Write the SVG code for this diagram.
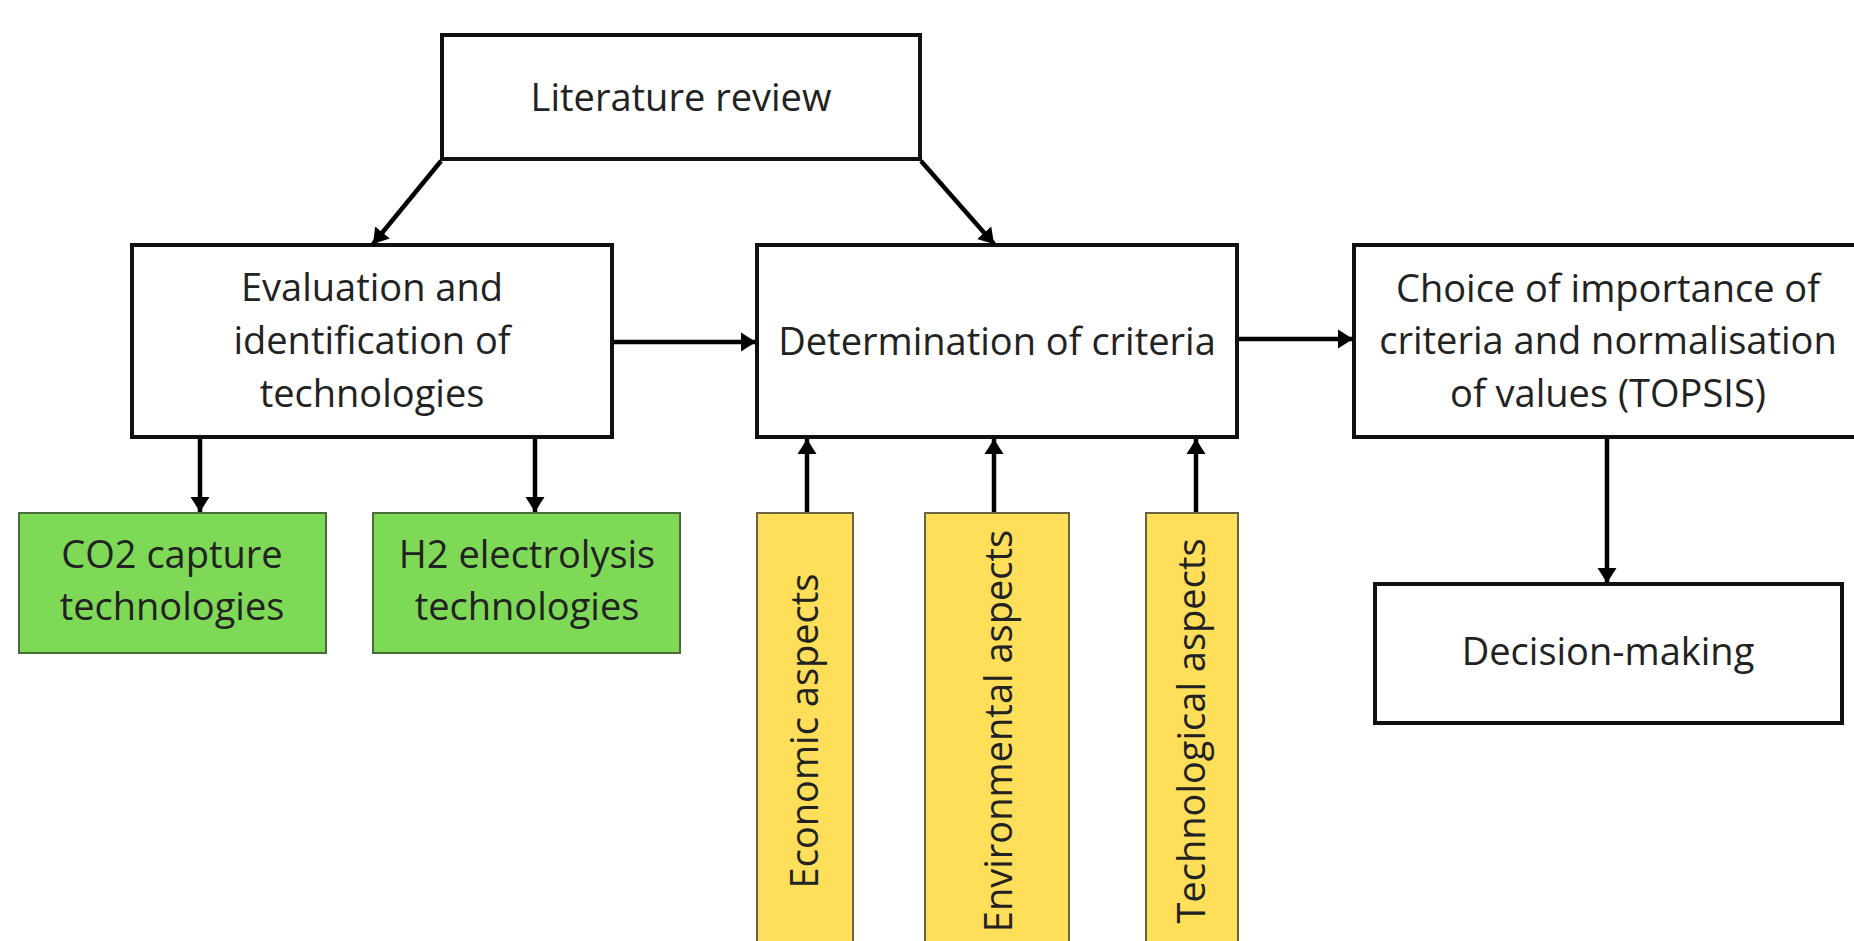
<svg xmlns="http://www.w3.org/2000/svg" width="1854" height="941" viewBox="0 0 1854 941">
<style>
.box{fill:#fff;stroke:#111;stroke-width:4}
.green{fill:#7ED957;stroke:#4a6b3a;stroke-width:2}
.yellow{fill:#FFDE59;stroke:#6b6240;stroke-width:2}
.t{font-family:"Open Sans","Noto Sans",sans-serif;font-size:38px;fill:#222;text-anchor:middle}
.edge{stroke:#000;stroke-width:4.5;fill:none;marker-end:url(#ah)}
</style>
<defs>
<marker id="ah" markerWidth="18" markerHeight="22" refX="15" refY="10" orient="auto" markerUnits="userSpaceOnUse"><path d="M0,0.5 L15,10 L0,19.5 z" fill="#000"/></marker>
</defs>
<rect width="1854" height="941" fill="#fff"/>
<g id="lit"><rect class="box" x="442" y="35" width="478" height="124"/><text class="t" x="681" y="111">Literature review</text></g>
<g id="eval"><rect class="box" x="132" y="245" width="480" height="192"/>
<text class="t" x="372" y="301">Evaluation and</text><text class="t" x="372" y="354">identification of</text><text class="t" x="372" y="407">technologies</text></g>
<g id="det"><rect class="box" x="757" y="245" width="480" height="192"/><text class="t" x="997" y="355">Determination of criteria</text></g>
<g id="choice"><rect class="box" x="1354" y="245" width="510" height="192"/>
<text class="t" x="1608" y="302">Choice of importance of</text><text class="t" x="1608" y="354">criteria and normalisation</text><text class="t" x="1608" y="407">of values (TOPSIS)</text></g>
<g id="decision"><rect class="box" x="1375" y="584" width="467" height="139"/><text class="t" x="1608" y="665">Decision-making</text></g>
<g id="co2"><rect class="green" x="19" y="513" width="307" height="140"/><text class="t" x="172" y="568">CO2 capture</text><text class="t" x="172" y="620">technologies</text></g>
<g id="h2"><rect class="green" x="373" y="513" width="307" height="140"/><text class="t" x="527" y="568">H2 electrolysis</text><text class="t" x="527" y="620">technologies</text></g>
<g id="econ"><rect class="yellow" x="757" y="513" width="96" height="450"/><text class="t" transform="translate(805,731) rotate(-90)" x="0" y="13">Economic aspects</text></g>
<g id="env"><rect class="yellow" x="925" y="513" width="144" height="450"/><text class="t" transform="translate(999,731) rotate(-90)" x="0" y="13">Environmental aspects</text></g>
<g id="tech"><rect class="yellow" x="1146" y="513" width="92" height="450"/><text class="t" transform="translate(1192,731) rotate(-90)" x="0" y="13">Technological aspects</text></g>
<g id="connectors">
<line class="edge" x1="441" y1="161" x2="373" y2="244"/>
<line class="edge" x1="921" y1="161" x2="994" y2="244"/>
<line class="edge" x1="614" y1="342" x2="756" y2="342"/>
<line class="edge" x1="1239" y1="339" x2="1353" y2="339"/>
<line class="edge" x1="200" y1="439" x2="200" y2="512"/>
<line class="edge" x1="535" y1="439" x2="535" y2="512"/>
<line class="edge" x1="807" y1="512" x2="807" y2="439"/>
<line class="edge" x1="994" y1="512" x2="994" y2="439"/>
<line class="edge" x1="1196" y1="512" x2="1196" y2="439"/>
<line class="edge" x1="1607" y1="439" x2="1607" y2="583"/>
</g>
</svg>
